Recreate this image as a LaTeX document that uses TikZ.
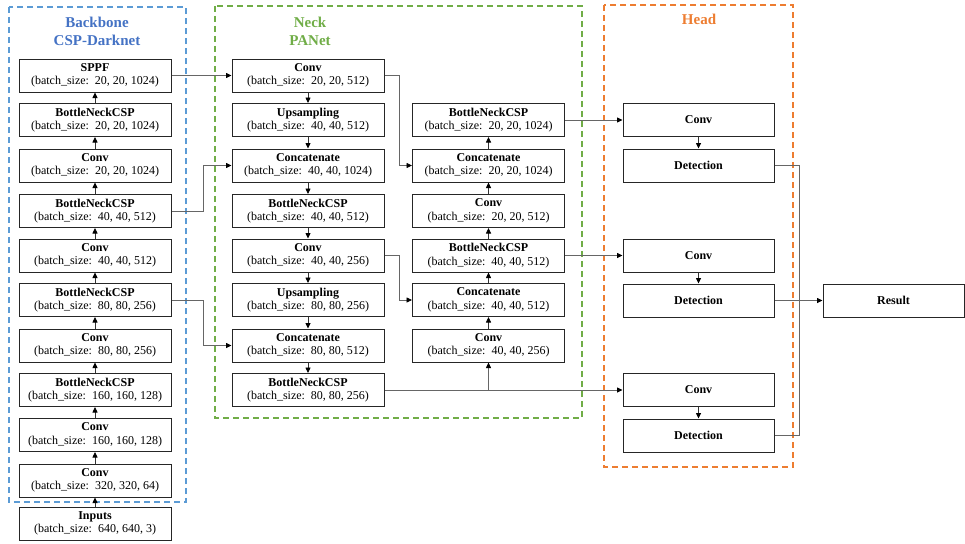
\documentclass[tikz,border=0pt]{standalone}
\usepackage{fontspec}
\setmainfont{Liberation Serif}
\usetikzlibrary{arrows.meta}

\definecolor{bbblue}{HTML}{5B9BD5}
\definecolor{bbtext}{HTML}{4472C4}
\definecolor{nkgreen}{HTML}{70AD47}
\definecolor{hdorange}{HTML}{ED7D31}

% two-line layer label: bold name, tensor shape below
\newcommand\layertext[2]{\textbf{#1}\\(batch\_size:\ \ #2)}

\tikzset{
  layer/.style={draw=black!85, line width=1pt, fill=white,
    minimum width=152pt, minimum height=33pt, inner sep=0pt,
    align=center, font=\fontsize{12}{13.5}\selectfont},
  headlayer/.style={layer, minimum width=151pt},
  frame/.style={line width=1.3pt, dash pattern=on 6pt off 4pt},
  frametitle/.style={font=\fontsize{15}{18}\selectfont\bfseries, align=center},
  tip/.style={-{Triangle[length=5.5pt,width=5pt,color=black]}},
  step arrow/.style={tip, line width=0.8pt, draw=black!80},
  link/.style={tip, line width=0.8pt, draw=black!60},
  plain link/.style={line width=0.8pt, draw=black!60},
}

\begin{document}
\begin{tikzpicture}[x=1pt,y=-1pt]
  \useasboundingbox (0,0) rectangle (965,543);

  % stage frames
  \draw[frame, bbblue]   (9,7)   rectangle (186,502);
  \draw[frame, nkgreen]  (215,6) rectangle (582,418);
  \draw[frame, hdorange] (604,5) rectangle (793,467);

  \node[frametitle, text=bbtext]   (tbb) at (97,31)  {Backbone\\CSP-Darknet};
  \node[frametitle, text=nkgreen]  (tnk) at (310,31) {Neck\\PANet};
  \node[frametitle, text=hdorange] (thd) at (699,19) {Head};

  % backbone column
  \node[layer] (sppf)   at (95,75.5)  {\layertext{SPPF}{20, 20, 1024}};
  \node[layer] (bb20)   at (95,120)   {\layertext{BottleNeckCSP}{20, 20, 1024}};
  \node[layer] (cv20)   at (95,165.5) {\layertext{Conv}{20, 20, 1024}};
  \node[layer] (bb40)   at (95,211)   {\layertext{BottleNeckCSP}{40, 40, 512}};
  \node[layer] (cv40)   at (95,255.5) {\layertext{Conv}{40, 40, 512}};
  \node[layer] (bb80)   at (95,300)   {\layertext{BottleNeckCSP}{80, 80, 256}};
  \node[layer] (cv80)   at (95,345.5) {\layertext{Conv}{80, 80, 256}};
  \node[layer] (bb160)  at (95,390)   {\layertext{BottleNeckCSP}{160, 160, 128}};
  \node[layer] (cv160)  at (95,435)   {\layertext{Conv}{160, 160, 128}};
  \node[layer] (cv320)  at (95,480.5) {\layertext{Conv}{320, 320, 64}};
  \node[layer] (inputs) at (95,523.5) {\layertext{Inputs}{640, 640, 3}};

  % neck, top-down path
  \node[layer] (nconv1) at (308,75.5) {\layertext{Conv}{20, 20, 512}};
  \node[layer] (nup1)   at (308,120)  {\layertext{Upsampling}{40, 40, 512}};
  \node[layer] (ncat1)  at (308,165.5){\layertext{Concatenate}{40, 40, 1024}};
  \node[layer] (nbn1)   at (308,211)  {\layertext{BottleNeckCSP}{40, 40, 512}};
  \node[layer] (nconv2) at (308,255.5){\layertext{Conv}{40, 40, 256}};
  \node[layer] (nup2)   at (308,300)  {\layertext{Upsampling}{80, 80, 256}};
  \node[layer] (ncat2)  at (308,345.5){\layertext{Concatenate}{80, 80, 512}};
  \node[layer] (nbn2)   at (308,390)  {\layertext{BottleNeckCSP}{80, 80, 256}};

  % neck, bottom-up path
  \node[layer] (rbn1)   at (488.5,120)   {\layertext{BottleNeckCSP}{20, 20, 1024}};
  \node[layer] (rcat1)  at (488.5,165.5) {\layertext{Concatenate}{20, 20, 1024}};
  \node[layer] (rconv1) at (488.5,211)   {\layertext{Conv}{20, 20, 512}};
  \node[layer] (rbn2)   at (488.5,255.5) {\layertext{BottleNeckCSP}{40, 40, 512}};
  \node[layer] (rcat2)  at (488.5,300)   {\layertext{Concatenate}{40, 40, 512}};
  \node[layer] (rconv2) at (488.5,345.5) {\layertext{Conv}{40, 40, 256}};

  % head
  \node[headlayer] (hconv1) at (698.5,120)   {\textbf{Conv}};
  \node[headlayer] (hdet1)  at (698.5,165.5) {\textbf{Detection}};
  \node[headlayer] (hconv2) at (698.5,255.5) {\textbf{Conv}};
  \node[headlayer] (hdet2)  at (698.5,300.5) {\textbf{Detection}};
  \node[headlayer] (hconv3) at (698.5,390)   {\textbf{Conv}};
  \node[headlayer] (hdet3)  at (698.5,435.5) {\textbf{Detection}};

  \node[layer, minimum width=141pt] (result) at (893.5,300.5) {\textbf{Result}};

  % backbone flow (upwards)
  \foreach \a/\b in {inputs/cv320, cv320/cv160, cv160/bb160, bb160/cv80,
                     cv80/bb80, bb80/cv40, cv40/bb40, bb40/cv20, cv20/bb20, bb20/sppf}
    \draw[step arrow] (\a.north) -- (\b.south);

  % neck top-down flow
  \foreach \a/\b in {nconv1/nup1, nup1/ncat1, ncat1/nbn1, nbn1/nconv2,
                     nconv2/nup2, nup2/ncat2, ncat2/nbn2}
    \draw[step arrow] (\a.south) -- (\b.north);

  % neck bottom-up flow
  \foreach \a/\b in {rconv2/rcat2, rcat2/rbn2, rbn2/rconv1, rconv1/rcat1, rcat1/rbn1}
    \draw[step arrow] (\a.north) -- (\b.south);

  % head conv to detection
  \foreach \a/\b in {hconv1/hdet1, hconv2/hdet2, hconv3/hdet3}
    \draw[step arrow] (\a.south) -- (\b.north);

  % backbone to neck
  \draw[link] (sppf.east) -- (nconv1.west);
  \draw[link] (bb40.east) -- ++(32,0) |- (ncat1.west);
  \draw[link] (bb80.east) -- ++(32,0) |- (ncat2.west);

  % lateral links inside the neck
  \draw[link] (nconv1.east) -- ++(15,0) |- (rcat1.west);
  \draw[link] (nconv2.east) -- ++(15,0) |- (rcat2.west);
  \draw[link] (nbn2.east) -- (hconv3.west);
  \draw[link] (rconv2.south |- nbn2.east) -- (rconv2.south);

  % neck to head
  \draw[link] (rbn1.east) -- (hconv1.west);
  \draw[link] (rbn2.east) -- (hconv2.west);

  % detections to result
  \draw[plain link] (hdet1.east) -- ++(25,0) |- (hdet3.east);
  \draw[link] (hdet2.east) -- (result.west);
\end{tikzpicture}
\end{document}
